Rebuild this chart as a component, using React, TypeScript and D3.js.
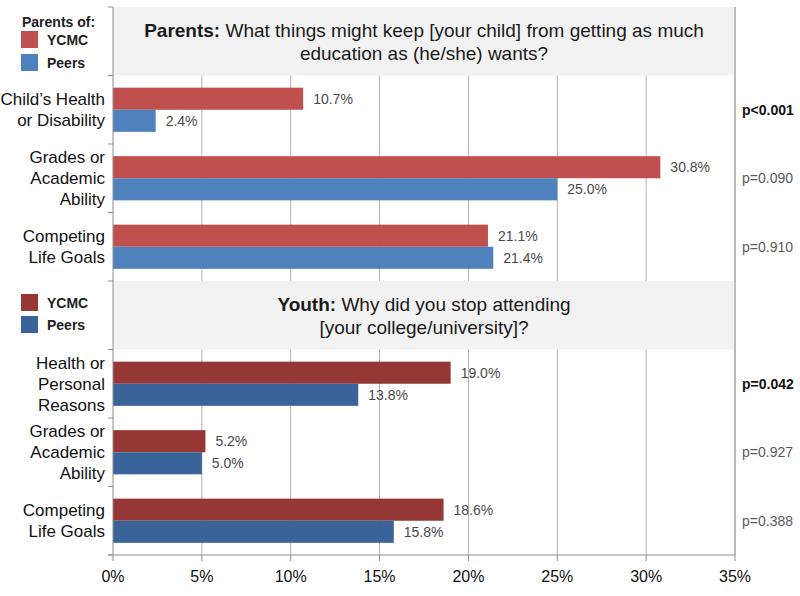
import React from "react";
import * as d3 from "d3";

// categories and values
const parentCats = ["Child’s Health\nor Disability", "Grades or\nAcademic\nAbility", "Competing\nLife Goals"];
const parentYCMC = [10.7, 30.8, 21.1];
const parentPeers = [2.4, 25.0, 21.4];
const parentP = ["p<0.001", "p=0.090", "p=0.910"];
const parentSig = [true, false, false];

const youthCats = ["Health or\nPersonal\nReasons", "Grades or\nAcademic\nAbility", "Competing\nLife Goals"];
const youthYCMC = [19.0, 5.2, 18.6];
const youthPeers = [13.8, 5.0, 15.8];
const youthP = ["p=0.042", "p=0.927", "p=0.388"];
const youthSig = [true, false, false];

const seriesNames = ["YCMC", "Peers"];
const xTicks = [0, 5, 10, 15, 20, 25, 30, 35];

const FONT = "'Liberation Sans', Arial, sans-serif";
const parentColors = ["#c0504d", "#4f81bd"];
const youthColors = ["#953735", "#3a6499"];

const App = () => {
  const width = 800;
  const height = 596;
  const top = 7;
  const bottom = 555;

  const x = d3.scaleLinear().domain([0, 35]).range([113, 735]);

  const rows = ["titleP", "p0", "p1", "p2", "titleY", "y0", "y1", "y2"];
  const y = d3.scaleBand().domain(rows).range([top, bottom]);
  const inner = d3.scaleBand().domain(seriesNames).range([0, y.bandwidth()]).paddingOuter(0.55);

  const groups = [
    { key: "p", title: "Parents:", rest: [" What things might keep [your child] from getting as much", "education as (he/she) wants?"],
      cats: parentCats, vals: [parentYCMC, parentPeers], p: parentP, sig: parentSig, colors: parentColors, legendHead: "Parents of:" },
    { key: "y", title: "Youth:", rest: [" Why did you stop attending", "[your college/university]?"],
      cats: youthCats, vals: [youthYCMC, youthPeers], p: youthP, sig: youthSig, colors: youthColors, legendHead: "" },
  ];

  const boundaries = rows.map((r) => y(r)!).concat([bottom]);

  return (
    <svg width={width} height={height} style={{ position: "absolute", left: 0, top: 0, background: "#fff" }} fontFamily={FONT}>
      {/* gridlines */}
      {xTicks.slice(1).map((t) => (
        <line key={"g" + t} x1={x(t)} x2={x(t)} y1={top} y2={bottom} stroke="#b3b3b3" strokeWidth={1} />
      ))}

      {groups.map((g) => {
        const titleRow = g.key === "p" ? "titleP" : "titleY";
        const ty = y(titleRow)!;
        const cy = ty + y.bandwidth() / 2;
        return (
          <g key={g.key}>
            <rect x={x(0)} y={ty} width={x(35) - x(0) - 0.5} height={y.bandwidth()} fill="#f2f2f2" />
            <text x={(x(0) + x(35)) / 2} y={cy - 4} textAnchor="middle" fontSize={19} fill="#1a1a1a">
              <tspan fontWeight="bold">{g.title}</tspan>
              <tspan>{g.rest[0]}</tspan>
            </text>
            <text x={(x(0) + x(35)) / 2} y={cy + 19} textAnchor="middle" fontSize={19} fill="#1a1a1a">
              {g.rest[1]}
            </text>

            {/* legend */}
            {g.legendHead && (
              <text x={22} y={ty + 20} fontSize={14} fontWeight="bold" fill="#222">{g.legendHead}</text>
            )}
            {seriesNames.map((s, i) => {
              const ly = g.key === "p" ? ty + 24 + i * 23 : ty + 13 + i * 22;
              return (
                <g key={s}>
                  <rect x={21} y={ly} width={17} height={17} fill={g.colors[i]} />
                  <text x={47} y={ly + 14} fontSize={14} fontWeight="bold" fill="#222">{s}</text>
                </g>
              );
            })}

            {g.cats.map((c, ci) => {
              const row = g.key + ci;
              const by = y(row)!;
              const center = by + y.bandwidth() / 2;
              const lines = c.split("\n");
              return (
                <g key={row}>
                  {lines.map((l, li) => (
                    <text key={li} x={105} y={center - ((lines.length - 1) * 21) / 2 + 6 + li * 21}
                      textAnchor="end" fontSize={17} fill="#111">{l}</text>
                  ))}
                  {seriesNames.map((s, si) => {
                    const v = g.vals[si][ci];
                    const yy = by + inner(s)!;
                    return (
                      <g key={s}>
                        <rect x={x(0)} y={yy} width={x(v) - x(0)} height={inner.bandwidth()} fill={g.colors[si]} />
                        <text x={x(v) + 10} y={yy + inner.bandwidth() / 2 + 5} fontSize={14} fill="#4a4a4a">
                          {v.toFixed(1) + "%"}
                        </text>
                      </g>
                    );
                  })}
                  <text x={742} y={center + 5} fontSize={14} fontWeight={g.sig[ci] ? "bold" : "normal"}
                    fill={g.sig[ci] ? "#111" : "#5a5a5a"}>{g.p[ci]}</text>
                </g>
              );
            })}
          </g>
        );
      })}

      {/* right border */}
      <line x1={x(35)} x2={x(35)} y1={top} y2={bottom} stroke="#9a9a9a" />

      {/* y axis */}
      <line x1={x(0)} x2={x(0)} y1={top} y2={bottom} stroke="#8c8c8c" />
      {boundaries.map((b, i) => (
        <line key={"yt" + i} x1={x(0) - 5} x2={x(0)} y1={b} y2={b} stroke="#8c8c8c" />
      ))}

      {/* x axis */}
      <line x1={x(0) - 5} x2={x(35)} y1={bottom} y2={bottom} stroke="#8c8c8c" />
      {xTicks.map((t) => (
        <g key={"xt" + t}>
          <line x1={x(t)} x2={x(t)} y1={bottom} y2={bottom + 6} stroke="#8c8c8c" />
          <text x={x(t)} y={bottom + 27} textAnchor="middle" fontSize={16} fill="#111">{t + "%"}</text>
        </g>
      ))}
    </svg>
  );
};

export default App;
